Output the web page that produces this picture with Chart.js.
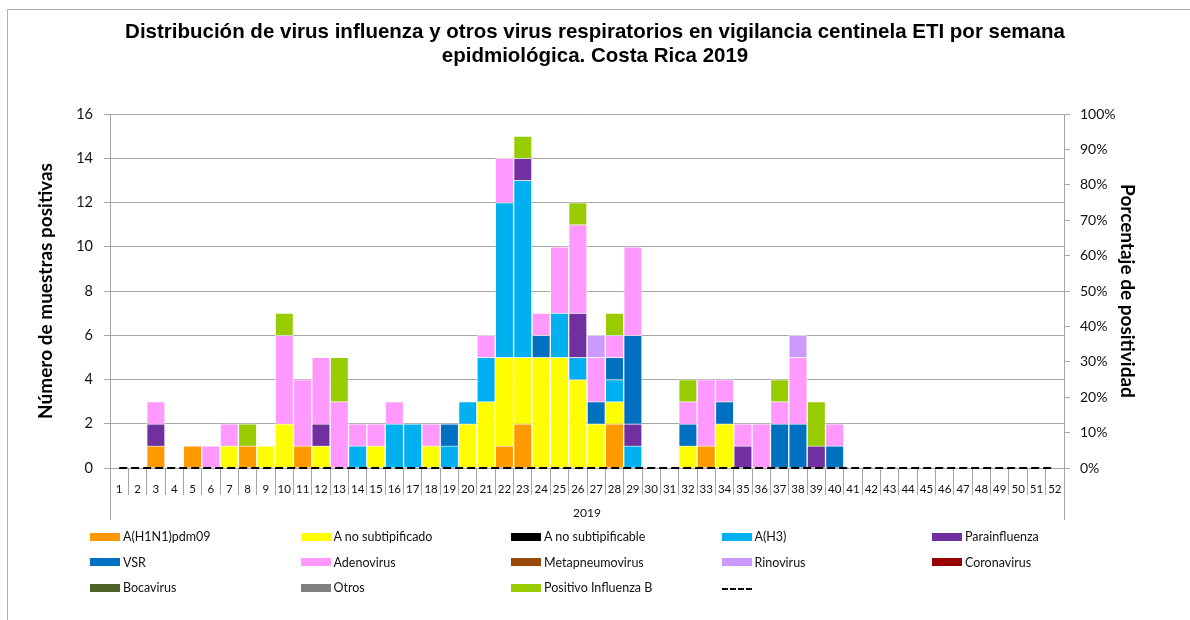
<!DOCTYPE html>
<html lang="es">
<head>
    <meta charset="UTF-8">
    <title>Vigilancia centinela ETI 2019</title>
    <script src="https://cdn.jsdelivr.net/npm/chart.js"></script>
    <style>
        body { margin: 0; background: #fff; }
        #wrap { position: relative; width: 1190px; height: 620px; overflow: hidden; }
        #frame { position: absolute; left: 7px; top: 9px; width: 1300px; height: 700px;
                 border-left: 1px solid #b0b0b0; border-top: 1px solid #b0b0b0; }
        #legend { position: absolute; left: 90px; top: 524px; display: grid;
                  grid-template-columns: repeat(5, 210.5px); font: 12.5px Lato, sans-serif; color: #111; }
        #legend .item { height: 25.5px; line-height: 25.5px; white-space: nowrap; }
        #legend .box { display: inline-block; width: 30px; height: 8px; margin-right: 3px; vertical-align: middle; position: relative; top: -1px; }
        #legend .dash { display: inline-block; width: 30px; height: 0; border-top: 2px dashed #000; vertical-align: middle; }
    </style>
</head>
<body>
<div id="wrap">
    <div id="frame"></div>
    <canvas id="chart" width="1190" height="620"></canvas>
    <div id="legend"></div>
</div>

<script>
    // semanas epidemiologicas 1..52
    const semanas = ['1','2','3','4','5','6','7','8','9','10','11','12','13','14','15','16','17','18','19','20',
        '21','22','23','24','25','26','27','28','29','30','31','32','33','34','35','36','37','38','39','40',
        '41','42','43','44','45','46','47','48','49','50','51','52'];

    const h1n1 = [0,0,1,0,1,0,0,1,0,0, 1,0,0,0,0,0,0,0,0,0, 0,1,2,0,0,0,0,2,0,0, 0,0,1,0,0,0,0,0,0,0, 0,0,0,0,0,0,0,0,0,0,0,0];
    const aNoSubtipificado = [0,0,0,0,0,0,1,0,1,2, 0,1,0,0,1,0,0,1,0,2, 3,4,3,5,5,4,2,1,0,0, 0,1,0,2,0,0,0,0,0,0, 0,0,0,0,0,0,0,0,0,0,0,0];
    const aNoSubtipificable = [0,0,0,0,0,0,0,0,0,0, 0,0,0,0,0,0,0,0,0,0, 0,0,0,0,0,0,0,0,0,0, 0,0,0,0,0,0,0,0,0,0, 0,0,0,0,0,0,0,0,0,0,0,0];
    const h3 = [0,0,0,0,0,0,0,0,0,0, 0,0,0,1,0,2,2,0,1,1, 2,7,8,0,2,1,0,1,1,0, 0,0,0,0,0,0,0,0,0,0, 0,0,0,0,0,0,0,0,0,0,0,0];
    const parainfluenza = [0,0,1,0,0,0,0,0,0,0, 0,1,0,0,0,0,0,0,0,0, 0,0,1,0,0,2,0,0,1,0, 0,0,0,0,1,0,0,0,1,0, 0,0,0,0,0,0,0,0,0,0,0,0];
    const vsr = [0,0,0,0,0,0,0,0,0,0, 0,0,0,0,0,0,0,0,1,0, 0,0,0,1,0,0,1,1,4,0, 0,1,0,1,0,0,2,2,0,1, 0,0,0,0,0,0,0,0,0,0,0,0];
    const adenovirus = [0,0,1,0,0,1,1,0,0,4, 3,3,3,1,1,1,0,1,0,0, 1,2,0,1,3,4,2,1,4,0, 0,1,3,1,1,2,1,3,0,1, 0,0,0,0,0,0,0,0,0,0,0,0];
    const metapneumovirus = [0,0,0,0,0,0,0,0,0,0, 0,0,0,0,0,0,0,0,0,0, 0,0,0,0,0,0,0,0,0,0, 0,0,0,0,0,0,0,0,0,0, 0,0,0,0,0,0,0,0,0,0,0,0];
    const rinovirus = [0,0,0,0,0,0,0,0,0,0, 0,0,0,0,0,0,0,0,0,0, 0,0,0,0,0,0,1,0,0,0, 0,0,0,0,0,0,0,1,0,0, 0,0,0,0,0,0,0,0,0,0,0,0];
    const coronavirus = [0,0,0,0,0,0,0,0,0,0, 0,0,0,0,0,0,0,0,0,0, 0,0,0,0,0,0,0,0,0,0, 0,0,0,0,0,0,0,0,0,0, 0,0,0,0,0,0,0,0,0,0,0,0];
    const bocavirus = [0,0,0,0,0,0,0,0,0,0, 0,0,0,0,0,0,0,0,0,0, 0,0,0,0,0,0,0,0,0,0, 0,0,0,0,0,0,0,0,0,0, 0,0,0,0,0,0,0,0,0,0,0,0];
    const otros = [0,0,0,0,0,0,0,0,0,0, 0,0,0,0,0,0,0,0,0,0, 0,0,0,0,0,0,0,0,0,0, 0,0,0,0,0,0,0,0,0,0, 0,0,0,0,0,0,0,0,0,0,0,0];
    const influenzaB = [0,0,0,0,0,0,0,1,0,1, 0,0,2,0,0,0,0,0,0,0, 0,0,1,0,0,1,0,1,0,0, 0,1,0,0,0,0,1,0,2,0, 0,0,0,0,0,0,0,0,0,0,0,0];
    // porcentaje de positividad (%)
    const positividad = [0,0,0,0,0,0,0,0,0,0, 0,0,0,0,0,0,0,0,0,0, 0,0,0,0,0,0,0,0,0,0, 0,0,0,0,0,0,0,0,0,0, 0,0,0,0,0,0,0,0,0,0,0,0];

    const pctTicks = [0,10,20,30,40,50,60,70,80,90,100];

    const series = [
        ['A(H1N1)pdm09', h1n1, '#FF9900'],
        ['A no subtipificado', aNoSubtipificado, '#FFFF00'],
        ['A no subtipificable', aNoSubtipificable, '#000000'],
        ['A(H3)', h3, '#00B0F0'],
        ['Parainfluenza', parainfluenza, '#7030A0'],
        ['VSR', vsr, '#0070C0'],
        ['Adenovirus', adenovirus, '#FF99FF'],
        ['Metapneumovirus', metapneumovirus, '#984807'],
        ['Rinovirus', rinovirus, '#CC99FF'],
        ['Coronavirus', coronavirus, '#990000'],
        ['Bocavirus', bocavirus, '#4F6228'],
        ['Otros', otros, '#808080'],
        ['Positivo Influenza  B', influenzaB, '#99CC00']
    ];

    const gridGray = '#a6a6a6';

    const datasets = series.map(([label, data, color]) => ({
        type: 'bar',
        label: label,
        data: data.map(v => v === 0 ? null : v),
        backgroundColor: color,
        borderColor: 'rgba(255,255,255,0.55)',
        borderWidth: 1,
        barPercentage: 1,
        categoryPercentage: 1,
        yAxisID: 'y',
        order: 1
    }));
    datasets.push({
        type: 'line',
        label: '',
        data: positividad,
        borderColor: '#000',
        borderWidth: 2,
        borderDash: [8, 4],
        pointRadius: 0,
        fill: false,
        yAxisID: 'y1',
        clip: false,
        order: 0
    });

    // longer edge lines under the category axis
    const edgeLines = {
        id: 'edgeLines',
        afterDraw(chart) {
            const {ctx, chartArea, scales} = chart;
            ctx.save();
            ctx.strokeStyle = gridGray;
            ctx.lineWidth = 1;
            ctx.beginPath();
            [chartArea.left, chartArea.right].forEach(x => {
                ctx.moveTo(Math.round(x) + 0.5, chartArea.bottom);
                ctx.lineTo(Math.round(x) + 0.5, scales.x.bottom);
            });
            ctx.stroke();
            ctx.restore();
        }
    };

    Chart.defaults.font.family = 'Lato, sans-serif';
    Chart.defaults.color = '#111';

    const chart = new Chart(document.getElementById('chart'), {
        data: { labels: semanas, datasets: datasets },
        plugins: [edgeLines],
        options: {
            responsive: false,
            animation: false,
            layout: { padding: { left: 0, right: 0, top: 10, bottom: 100 } },
            plugins: {
                legend: { display: false },
                tooltip: { enabled: false },
                title: {
                    display: true,
                    text: ['Distribución de virus influenza y otros virus respiratorios en vigilancia centinela ETI por semana',
                           'epidmiológica. Costa Rica 2019'],
                    font: { family: '"Liberation Sans", Arial, sans-serif', size: 20.5, weight: 'bold', lineHeight: 24 / 20.5 },
                    color: '#000',
                    padding: { top: 10, bottom: 46 }
                }
            },
            scales: {
                x: {
                    stacked: true,
                    grid: { offset: true, drawOnChartArea: false, tickLength: 27, color: gridGray },
                    border: { color: gridGray },
                    ticks: { font: { size: 11.5 }, padding: -13, maxRotation: 0, autoSkip: false },
                    title: { display: true, text: '2019', font: { size: 12 }, padding: { top: 0, bottom: 0 } },
                    afterFit(scale) { scale.height = 52; }
                },
                y: {
                    stacked: true,
                    position: 'left',
                    min: 0, max: 16,
                    ticks: { stepSize: 2, font: { size: 14.5 }, padding: 11 },
                    grid: { color: gridGray, tickLength: 6 },
                    border: { color: gridGray },
                    title: { display: true, text: 'Número de muestras positivas',
                             font: { size: 19, weight: 'bold' }, color: '#000', padding: { top: 34 } },
                    afterFit(scale) { scale.width = 110; }
                },
                y1: {
                    position: 'right',
                    min: 0, max: 100,
                    afterBuildTicks(scale) { scale.ticks = pctTicks.map(v => ({ value: v })); },
                    ticks: { font: { size: 14 }, padding: 10, callback: v => v + '%' },
                    grid: { drawOnChartArea: false, color: gridGray, tickLength: 6 },
                    border: { color: gridGray },
                    title: { display: true, text: 'Porcentaje de positividad',
                             font: { size: 19, weight: 'bold' }, color: '#000', padding: { top: 51 } },
                    afterFit(scale) { scale.width = 126; }
                }
            }
        }
    });

    // legend in five columns, same order as the datasets
    const legend = document.getElementById('legend');
    chart.data.datasets.forEach(ds => {
        const item = document.createElement('div');
        item.className = 'item';
        const mark = document.createElement('span');
        if (ds.type === 'line') {
            mark.className = 'dash';
        } else {
            mark.className = 'box';
            mark.style.background = ds.backgroundColor;
        }
        item.appendChild(mark);
        item.appendChild(document.createTextNode(ds.label));
        legend.appendChild(item);
    });
</script>
</body>
</html>
